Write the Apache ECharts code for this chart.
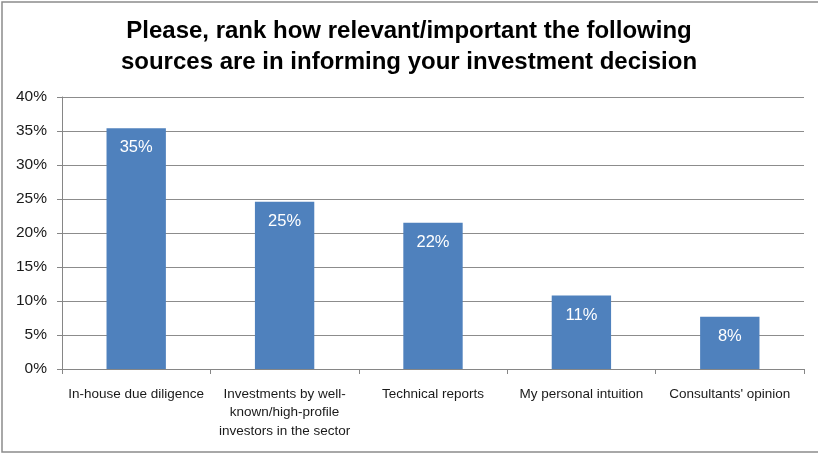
<!DOCTYPE html>
<html>
<head>
<meta charset="utf-8">
<script src="https://cdn.jsdelivr.net/npm/echarts@6/dist/echarts.min.js"></script>
<style>
  html, body { margin: 0; padding: 0; background: #fff; }
  #chart { width: 818px; height: 453px; }
</style>
</head>
<body>
<div id="chart"></div>
<script>
// Survey question and answer options
const titleLines = [
  'Please, rank how relevant/important the following',
  'sources are in informing your investment decision'
];
const categories = [
  'In-house due diligence',
  'Investments by well-\nknown/high-profile\ninvestors in the sector',
  'Technical reports',
  'My personal intuition',
  "Consultants' opinion"
];
// Share of respondents (percent)
const shares = [35.4, 24.6, 21.5, 10.8, 7.7];
// Value axis ticks (percent)
const yTicks = [0, 5, 10, 15, 20, 25, 30, 35, 40];

const FONT = 'Liberation Sans, Arial, sans-serif';

const chart = echarts.init(document.getElementById('chart'), null, { renderer: 'canvas' });
chart.setOption({
  animation: false,
  backgroundColor: '#ffffff',
  title: {
    text: titleLines.join('\n'),
    left: 'center',
    top: 11,
    textStyle: {
      fontFamily: FONT,
      fontWeight: 'bold',
      fontSize: 24,
      lineHeight: 31,
      color: '#000000'
    }
  },
  graphic: [{
    type: 'rect',
    shape: { x: 2, y: 2, width: 830, height: 450 },
    style: { fill: 'none', stroke: '#8c8c8c', lineWidth: 1.5 },
    silent: true
  }],
  grid: { left: 62, right: 14, top: 97, bottom: 84, containLabel: false },
  xAxis: {
    type: 'category',
    data: categories,
    axisLine: { lineStyle: { color: '#868686', width: 1 } },
    axisTick: { show: true, alignWithLabel: false, length: 5, lineStyle: { color: '#868686' } },
    axisLabel: {
      interval: 0,
      margin: 16,
      fontFamily: FONT,
      fontSize: 13.5,
      lineHeight: 18.5,
      color: '#1a1a1a'
    }
  },
  yAxis: {
    type: 'value',
    min: yTicks[0],
    max: yTicks[yTicks.length - 1],
    interval: 5,
    axisLine: { show: true, lineStyle: { color: '#868686', width: 1 } },
    axisTick: { show: true, length: 5, lineStyle: { color: '#868686' } },
    splitLine: { show: true, lineStyle: { color: '#8c8c8c', width: 1 } },
    axisLabel: {
      margin: 15,
      fontFamily: FONT,
      fontSize: 15.5,
      color: '#1a1a1a',
      formatter: v => v + '%'
    }
  },
  series: [{
    type: 'bar',
    data: shares,
    barWidth: '40%',
    itemStyle: { color: '#4f81bd' },
    label: {
      show: true,
      position: 'insideTop',
      distance: 11,
      fontFamily: FONT,
      fontSize: 16.5,
      color: '#ffffff',
      formatter: p => Math.round(p.value) + '%'
    }
  }]
});
</script>
</body>
</html>
